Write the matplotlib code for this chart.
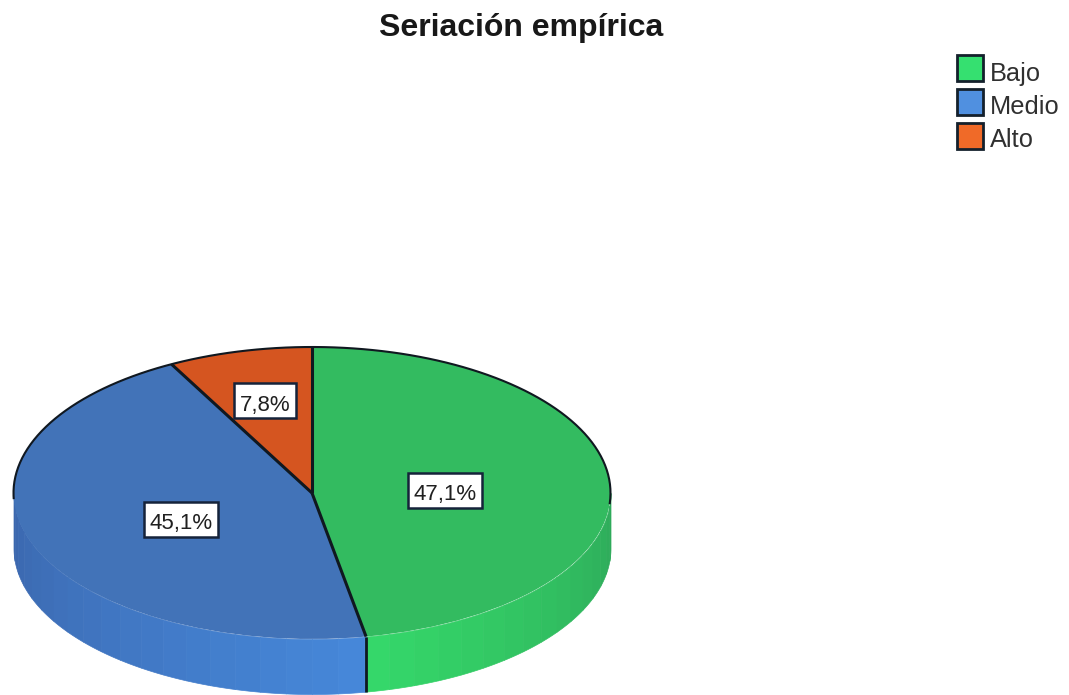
import numpy as np
import matplotlib
matplotlib.use("Agg")
import matplotlib.pyplot as plt
from matplotlib.patches import Rectangle

plt.rcParams['font.family'] = ['Liberation Sans', 'DejaVu Sans']

categories = ['Bajo', 'Medio', 'Alto']
values = [47.1, 45.1, 7.8]
top_colors = ['#33BB60', '#4273B8', '#D55520']
legend_colors = ['#35E070', '#5090E0', '#F06A28']
side_light = ['#35D86A', '#4688DA', '#F06A28']
side_dark = ['#2C9C55', '#3B66AC', '#B04A1C']
label_centres = [(445, 490), (181, 519), (265, 400.5)]

W, H = 1069, 695
cx, cy = 312, 493     # pie centre in pixels
rx, ry = 298.5, 146   # ellipse radii in pixels
depth = 55 / ry       # rim height in y units
line_col = '#101820'


def rgb(c):
    return np.array(matplotlib.colors.to_rgb(c))


def px(x, y):
    # pixel position (from top left) to data units
    return (x - cx) / rx, (cy - y) / ry


fig = plt.figure(figsize=(W / 100, H / 100), dpi=100)
ax = fig.add_axes([0, 0, 1, 1])

wedges, _ = ax.pie(values, colors=top_colors, startangle=90, counterclock=False,
                   radius=1, frame=True,
                   wedgeprops=dict(edgecolor='none', linewidth=0, zorder=3))
ax.set_aspect('auto')
ax.set_xlim(-cx / rx, (W - cx) / rx)
ax.set_ylim((cy - H) / ry, cy / ry)
ax.axis('off')

# rim of the disc, split into strips so the shading steps round the edge
brightest = wedges[0].theta1
edges = np.arange(180, 360.1, 5.0)
for w, light, dark in zip(wedges, side_light, side_dark):
    for a, b in zip(edges[:-1], edges[1:]):
        for shift in (-360, 0, 360):
            s0, s1 = max(a + shift, w.theta1), min(b + shift, w.theta2)
            if s1 > s0:
                th = np.radians(np.linspace(s0, s1, 8))
                dist = abs(((s0 + s1) / 2 - brightest + 180) % 360 - 180) / 100
                col = rgb(light) + (rgb(dark) - rgb(light)) * min(dist, 1)
                ax.fill_between(np.cos(th), np.sin(th) - depth, np.sin(th),
                                color=col, linewidth=0.5, zorder=1)

# only the far half of the disc has an outline
th = np.radians(np.linspace(-4, 182, 200))
ax.plot(np.cos(th), np.sin(th), color=line_col, lw=1.5, zorder=4)

# dividers between the slices
for w in wedges:
    th = np.radians(w.theta2)
    ax.plot([0, np.cos(th)], [0, np.sin(th)], color=line_col, lw=2.2, zorder=4,
            solid_capstyle='butt')

# divider running down the rim between green and blue
th = np.radians(wedges[0].theta1)
ax.plot([np.cos(th)] * 2, [np.sin(th), np.sin(th) - depth], color=line_col, lw=2,
        zorder=4, solid_capstyle='butt')

renderer = fig.canvas.get_renderer()
for v, (x, y) in zip(values, label_centres):
    tx, ty = px(x, y + 2)
    t = ax.text(tx, ty, f'{v:.1f}%'.replace('.', ','), ha='center', va='center_baseline',
                fontsize=16, color='#202020', zorder=6)
    # box sized from the text width
    box_w = (t.get_window_extent(renderer).width + 11) / rx
    box_h = 35 / ry
    bx, by = px(x, y)
    ax.add_patch(Rectangle((bx - box_w / 2, by - box_h / 2), box_w, box_h, fc='white',
                           ec='#15233a', lw=1.8, zorder=5))

fig.text(521.5 / W, 1 - 36 / H, 'Seriación empírica', ha='center', va='baseline',
         fontsize=23, fontweight='bold', color='#181818')

# legend column at the upper right
for i, (name, c) in enumerate(zip(categories, legend_colors)):
    sx, sy = px(957, 55 + 34 * i + 26)
    ax.add_patch(Rectangle((sx, sy), 26 / rx, 26 / ry, fc=c, ec='#14202c', lw=2, zorder=5))
    lx, ly = px(990, 81 + 33 * i)
    ax.text(lx, ly, name, ha='left', va='baseline', fontsize=18.3, color='#303030', zorder=5)

fig.savefig('out.png', dpi=100, facecolor='white')
